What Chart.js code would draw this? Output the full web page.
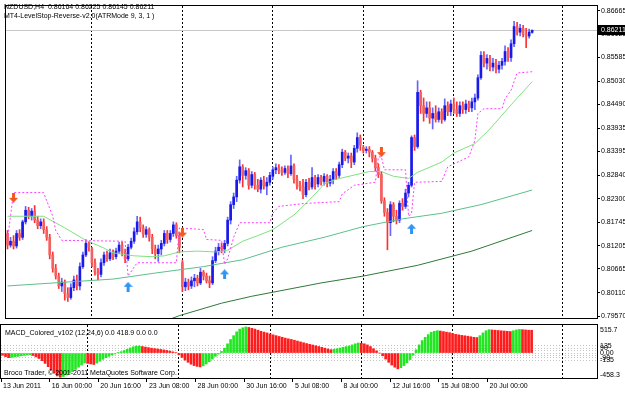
<!DOCTYPE html>
<html>
<head>
<meta charset="utf-8">
<title>NZDUSD,H4</title>
<script src="https://cdn.jsdelivr.net/npm/chart.js@4.4.1/dist/chart.umd.min.js"></script>
<style>
  body        { margin: 0; background: #fff; }
  #wrap       { position: relative; width: 625px; height: 393px; overflow: hidden; }
  canvas      { position: absolute; left: 0; }
  #priceChart { top: 0; }
  #macdChart  { top: 324px; }
</style>
</head>
<body>
<div id="wrap">
  <canvas id="priceChart" width="625" height="324"></canvas>
  <canvas id="macdChart" width="625" height="69"></canvas>
</div>
<script>
// ── Data: time axis ───────────────────────────────────────────
const timeIdx    = [0, 16, 32, 48, 64, 80, 96, 112, 128, 144, 160];
const timeLabels = ['13 Jun 2011', '16 Jun 00:00', '20 Jun 16:00', '23 Jun 08:00', '28 Jun 00:00',
                    '30 Jun 16:00', '5 Jul 08:00', '8 Jul 00:00', '12 Jul 16:00', '15 Jul 08:00', '20 Jul 00:00'];
const weekStarts = [28, 58, 88, 118, 148, 184];
const priceTicks = [0.86665, 0.86125, 0.85585, 0.85030, 0.84490, 0.83935, 0.83395,
                    0.82840, 0.82300, 0.81745, 0.81205, 0.80665, 0.80110, 0.79570];

// ── Data: NZDUSD H4 candles ───────────────────────────────────
const opens = [
  .8149,.8122,.8131,.8120,.8149,.8140,.8176,.8203,.8189,.8201,
  .8180,.8167,.8176,.8158,.8140,.8099,.8068,.8050,.8027,.8036,
  .8009,.8000,.8023,.8041,.8027,.8072,.8099,.8126,.8113,.8081,
  .8059,.8054,.8081,.8099,.8090,.8104,.8095,.8108,.8122,.8104,
  .8090,.8117,.8131,.8153,.8176,.8162,.8147,.8158,.8140,.8113,
  .8102,.8113,.8126,.8149,.8135,.8149,.8169,.8144,.8081,.8025,
  .8036,.8027,.8039,.8045,.8034,.8059,.8050,.8039,.8034,.8086,
  .8108,.8117,.8113,.8126,.8180,.8216,.8234,.8273,.8304,.8284,
  .8295,.8261,.8286,.8261,.8252,.8273,.8259,.8268,.8282,.8297,
  .8302,.8295,.8291,.8300,.8288,.8306,.8275,.8261,.8257,.8239,
  .8268,.8257,.8279,.8264,.8279,.8270,.8282,.8266,.8275,.8293,
  .8284,.8309,.8338,.8324,.8329,.8315,.8347,.8372,.8349,.8342,
  .8345,.8338,.8324,.8302,.8286,.8225,.8198,.8174,.8216,.8189,
  .8180,.8219,.8212,.8243,.8261,.8372,.8351,.8477,.8446,.8428,
  .8441,.8417,.8428,.8414,.8432,.8414,.8446,.8432,.8450,.8437,
  .8428,.8446,.8437,.8450,.8441,.8455,.8464,.8511,.8563,.8545,
  .8556,.8536,.8545,.8531,.8540,.8549,.8572,.8558,.8590,.8630,
  .8617,.8626,.8612,.8608,.86164
];
const highs = [
  .8156,.8140,.8144,.8156,.8158,.8180,.8212,.8210,.8207,.8214,
  .8189,.8183,.8183,.8165,.8147,.8106,.8077,.8057,.8045,.8041,
  .8023,.8032,.8050,.8052,.8081,.8106,.8135,.8131,.8117,.8090,
  .8068,.8090,.8106,.8108,.8113,.8111,.8115,.8129,.8129,.8113,
  .8124,.8138,.8162,.8189,.8187,.8169,.8165,.8162,.8147,.8122,
  .8122,.8133,.8156,.8156,.8156,.8176,.8174,.8151,.8086,.8045,
  .8043,.8048,.8054,.8052,.8068,.8063,.8057,.8050,.8095,.8117,
  .8126,.8126,.8133,.8187,.8223,.8243,.8282,.8320,.8309,.8302,
  .8300,.8293,.8291,.8275,.8279,.8282,.8279,.8291,.8304,.8311,
  .8309,.8304,.8306,.8306,.8331,.8311,.8284,.8270,.8275,.8275,
  .8277,.8302,.8284,.8286,.8284,.8288,.8286,.8284,.8300,.8300,
  .8315,.8345,.8342,.8336,.8336,.8354,.8383,.8378,.8354,.8351,
  .8351,.8342,.8331,.8311,.8293,.8232,.8207,.8223,.8221,.8203,
  .8225,.8230,.8252,.8268,.8376,.8378,.8504,.8482,.8464,.8455,
  .8455,.8441,.8446,.8441,.8439,.8462,.8455,.8459,.8464,.8455,
  .8455,.8455,.8459,.8457,.8464,.8473,.8518,.8572,.8572,.8565,
  .8563,.8556,.8554,.8549,.8556,.8585,.8581,.8599,.8642,.8640,
  .8635,.8633,.8626,.8624,.86225
];
const lows = [
  .8113,.8117,.8113,.8115,.8133,.8135,.8171,.8183,.8180,.8174,
  .8160,.8160,.8149,.8133,.8090,.8059,.8043,.8021,.8014,.7994,
  .7991,.7996,.8016,.8018,.8018,.8068,.8095,.8108,.8072,.8052,
  .8041,.8048,.8075,.8084,.8086,.8088,.8090,.8102,.8097,.8081,
  .8086,.8113,.8126,.8147,.8153,.8140,.8140,.8131,.8102,.8090,
  .8084,.8099,.8120,.8126,.8129,.8142,.8138,.8104,.8014,.8016,
  .8018,.8021,.8025,.8027,.8030,.8041,.8034,.8023,.8030,.8081,
  .8099,.8104,.8104,.8120,.8171,.8207,.8223,.8266,.8257,.8275,
  .8252,.8255,.8252,.8246,.8243,.8252,.8239,.8261,.8275,.8288,
  .8288,.8284,.8286,.8279,.8284,.8266,.8252,.8248,.8230,.8234,
  .8250,.8252,.8252,.8257,.8261,.8261,.8257,.8259,.8264,.8275,
  .8279,.8302,.8318,.8313,.8302,.8309,.8338,.8342,.8336,.8336,
  .8327,.8315,.8293,.8279,.8219,.8189,.8111,.8144,.8176,.8171,
  .8174,.8203,.8207,.8234,.8257,.8342,.8347,.8428,.8410,.8419,
  .8405,.8392,.8408,.8408,.8405,.8410,.8423,.8423,.8428,.8421,
  .8421,.8428,.8428,.8432,.8432,.8437,.8459,.8507,.8536,.8531,
  .8527,.8527,.8522,.8522,.8531,.8540,.8549,.8549,.8583,.8610,
  .8608,.8606,.8581,.8603,.86145
];
const closes = [
  .8122,.8131,.8120,.8149,.8140,.8176,.8203,.8189,.8201,.8180,
  .8167,.8176,.8158,.8140,.8099,.8068,.8050,.8027,.8036,.8009,
  .8000,.8023,.8041,.8027,.8072,.8099,.8126,.8117,.8081,.8059,
  .8054,.8081,.8099,.8090,.8104,.8095,.8108,.8122,.8104,.8090,
  .8117,.8131,.8153,.8176,.8162,.8147,.8158,.8140,.8113,.8102,
  .8113,.8126,.8149,.8135,.8149,.8169,.8144,.8117,.8025,.8036,
  .8027,.8039,.8045,.8034,.8059,.8050,.8039,.8034,.8086,.8108,
  .8117,.8113,.8126,.8180,.8216,.8234,.8273,.8304,.8284,.8295,
  .8261,.8286,.8261,.8252,.8273,.8259,.8268,.8284,.8297,.8302,
  .8295,.8291,.8300,.8288,.8306,.8275,.8261,.8257,.8239,.8268,
  .8257,.8279,.8264,.8279,.8270,.8282,.8266,.8275,.8293,.8284,
  .8309,.8338,.8324,.8329,.8315,.8347,.8372,.8354,.8342,.8345,
  .8338,.8324,.8302,.8286,.8225,.8198,.8174,.8216,.8189,.8180,
  .8219,.8212,.8243,.8261,.8372,.8351,.8477,.8446,.8428,.8441,
  .8417,.8428,.8414,.8432,.8414,.8446,.8432,.8450,.8437,.8428,
  .8446,.8437,.8450,.8441,.8455,.8464,.8511,.8563,.8545,.8556,
  .8536,.8545,.8531,.8540,.8549,.8572,.8558,.8590,.8630,.8617,
  .8626,.8612,.8608,.8617,.86211
];

// ── Data: moving averages (bar index / price) ─────────────────
const fastMaIdx = [0, 12, 19, 26, 32, 35, 42, 48, 52, 57, 63, 69, 73, 78, 83, 88,
                   95, 99, 103, 105, 109, 120, 124, 128, 133, 136, 144, 148, 155, 160, 167, 174];
const fastMaVal = [.8189, .8189, .8162, .8133, .8115, .8104, .8097, .8095, .8097, .8106, .8108, .8106, .8110, .8131, .8144, .8158,
                   .8192, .8219, .8248, .8264, .8275, .8293, .8293, .8282, .8277, .8291, .8315, .8336, .8358, .8392, .8448, .8502];
const midMaIdx  = [0, 35, 49, 65, 78, 91, 105, 118, 131, 144, 157, 174];
const midMaVal  = [.8027, .8043, .8057, .8072, .8088, .8117, .8140, .8165, .8183, .8196, .8216, .8250];
const slowMaIdx = [45, 57, 71, 81, 104, 118, 136, 154, 174];
const slowMaVal = [.7926, .7958, .7987, .8003, .8034, .8050, .8075, .8108, .8156];

// ── Data: LevelStop-Reverse line and signals ──────────────────
const stopIdx = [0, 2, 12, 13, 15, 16, 18, 39, 40, 43, 56, 57, 65, 66, 71, 72, 73, 75, 77, 87, 88, 90,
                 99, 110, 111, 115, 122, 123, 124, 125, 132, 133, 134, 135, 144, 146, 153, 155, 156, 158, 164, 165, 167, 169, 174];
const stopVal = [.8135, .8244, .8244, .8225, .8189, .8156, .8133, .8131, .8050, .8081, .8081, .8162, .8158, .8135, .8133, .8077, .8090, .8140, .8174, .8174, .8196, .8212,
                 .8219, .8223, .8241, .8261, .8268, .8327, .8327, .8297, .8297, .8189, .8196, .8268, .8270, .8304, .8327, .8365, .8428, .8439, .8439, .8462, .8482, .8522, .8525];
const sellIdx = [2, 58, 124];
const sellVal = [.8232, .8151, .8338];
const buyIdx  = [40, 72, 134];
const buyVal  = [.8025, .8054, .8160];

// ── Data: MACD_Colored histogram ──────────────────────────────
const macdHist = [
  -40,-65,-85,-80,-70,-62,-50,-42,-35,-30,
  -45,-70,-100,-140,-190,-250,-310,-370,-420,-445,
  -430,-400,-370,-340,-300,-260,-220,-180,-190,-200,
  -210,-185,-150,-115,-85,-60,-35,-15,5,25,
  45,70,95,115,128,130,120,110,100,90,
  82,75,66,57,48,36,22,8,-30,-80,
  -130,-170,-205,-230,-245,-255,-235,-200,-160,-110,
  -60,-20,30,90,170,250,320,390,440,465,
  480,470,455,440,420,400,385,370,350,335,
  320,305,290,275,262,250,235,220,205,190,
  175,160,148,135,120,105,90,75,62,70,
  80,92,105,118,130,150,170,185,180,170,
  150,120,80,40,0,-50,-110,-170,-220,-260,
  -290,-270,-230,-180,-120,-40,60,150,230,290,
  340,380,400,412,405,395,385,375,360,345,
  335,325,318,310,300,290,285,320,370,410,
  430,425,420,415,410,405,400,395,410,425,
  435,430,425,420,418.9
];
const macdLevels = [135, 90, 45, 0, -45, -90, -135];
const macdTickLabels = [135, 90, 0, -90, -135];
const macdMax = 515.7;
const macdMin = -458.3;

// ── Look ──────────────────────────────────────────────────────
const FONT  = "'Liberation Sans', Arial, sans-serif";
const X_MIN = -0.5;
const X_MAX = 195.5;   // bars + chart shift on the right

Chart.defaults.font.family = FONT;
Chart.defaults.font.size   = 7;
Chart.defaults.color       = '#000';

const makeArrow = (color, up) => {
  const c = document.createElement('canvas');
  c.width = 9; c.height = 10;
  const g = c.getContext('2d');
  g.fillStyle = color;
  g.beginPath();
  if (up) {
    g.moveTo(4.5, 0); g.lineTo(9, 5); g.lineTo(6, 5); g.lineTo(6, 10);
    g.lineTo(3, 10); g.lineTo(3, 5); g.lineTo(0, 5);
  } else {
    g.moveTo(4.5, 10); g.lineTo(9, 5); g.lineTo(6, 5); g.lineTo(6, 0);
    g.lineTo(3, 0); g.lineTo(3, 5); g.lineTo(0, 5);
  }
  g.closePath();
  g.fill();
  return c;
};
const downArrow = makeArrow('#f5561a', false);
const upArrow   = makeArrow('#2f95f5', true);

const pts = (xs, ys) => xs.map((x, i) => ({ x, y: ys[i] }));

const isBull     = closes.map((c, i) => c >= opens[i]);
const bodies     = closes.map((c, i) => ({ x: i, y: [opens[i], c] }));
const wicks      = closes.map((c, i) => ({ x: i, y: [lows[i], highs[i]] }));
const bodyColors = isBull.map(b => b ? '#1a1ae8' : '#f26060');
const wickColors = isBull.map(b => b ? '#6464ff' : '#ff3030');

const macdPts    = macdHist.map((v, i) => ({ x: i, y: v }));
const macdColors = macdHist.map((v, i) => (i > 0 && v > macdHist[i - 1]) ? '#22e622' : '#ff1c1c');

// ── Plugins ───────────────────────────────────────────────────
const frame = {
  id: 'frame',
  afterDraw(chart) {
    const { ctx, chartArea: a } = chart;
    ctx.save();
    ctx.strokeStyle = '#000';
    ctx.lineWidth = 1;
    ctx.strokeRect(a.left - 0.5, a.top - 0.5, a.right - a.left + 1, a.bottom - a.top + 1);
    ctx.restore();
  }
};

const separators = {
  id: 'separators',
  beforeDatasetsDraw(chart) {
    const { ctx, chartArea: a, scales: { x } } = chart;
    ctx.save();
    ctx.strokeStyle = '#000';
    ctx.lineWidth = 1;
    ctx.setLineDash([2, 2]);
    weekStarts.forEach(i => {
      const px = Math.floor(x.getPixelForValue(i)) + 0.5;
      ctx.beginPath();
      ctx.moveTo(px, a.top);
      ctx.lineTo(px, a.bottom);
      ctx.stroke();
    });
    ctx.restore();
  }
};

const bidLine = {
  id: 'bidLine',
  beforeDatasetsDraw(chart) {
    const { ctx, chartArea: a, scales: { y } } = chart;
    const py = Math.round(y.getPixelForValue(closes[closes.length - 1])) + 0.5;
    ctx.save();
    ctx.strokeStyle = '#c8c8c8';
    ctx.lineWidth = 1;
    ctx.beginPath();
    ctx.moveTo(a.left, py);
    ctx.lineTo(a.right, py);
    ctx.stroke();
    ctx.restore();
  },
  afterDraw(chart) {
    const { ctx, chartArea: a, scales: { y } } = chart;
    const last = closes[closes.length - 1];
    const py = Math.round(y.getPixelForValue(last));
    ctx.save();
    ctx.fillStyle = '#000';
    ctx.fillRect(a.right + 1, py - 5, 28, 10);
    ctx.fillStyle = '#fff';
    ctx.font = `7px ${FONT}`;
    ctx.textBaseline = 'middle';
    ctx.fillText(last.toFixed(5), a.right + 4, py);
    ctx.restore();
  }
};

const priceText = {
  id: 'priceText',
  afterDraw(chart) {
    const { ctx } = chart;
    ctx.save();
    ctx.fillStyle = '#000';
    ctx.font = `7px ${FONT}`;
    ctx.textBaseline = 'middle';
    const o = opens[opens.length - 1], h = highs[highs.length - 1];
    const l = lows[lows.length - 1],   c = closes[closes.length - 1];
    ctx.fillText(`NZDUSD,H4  ${o.toFixed(5)} ${h.toFixed(5)} ${l.toFixed(5)} ${c.toFixed(5)}`, 4, 7);
    ctx.fillText('MT4-LevelStop-Reverse-v2.0(ATRMode 9, 3, 1 )', 4, 16);
    ctx.restore();
  }
};

const macdText = {
  id: 'macdText',
  afterDraw(chart) {
    const { ctx, chartArea: a, scales: { y } } = chart;
    ctx.save();
    ctx.fillStyle = '#000';
    ctx.font = `7px ${FONT}`;
    ctx.textBaseline = 'middle';
    ctx.fillText(`MACD_Colored_v102 (12,24,6) 0.0 ${macdHist[macdHist.length - 1].toFixed(1)} 0.0 0.0`, 5, 9.5);
    ctx.fillText('Broco Trader, \u00a9 2001-2011 MetaQuotes Software Corp.', 4, 49);
    // right scale
    const lx = a.right + 3;
    ctx.fillText(macdMax.toFixed(1), lx, a.top + 5);
    ctx.fillText(macdMin.toFixed(1), lx, a.bottom - 3);
    macdTickLabels.forEach(v => ctx.fillText(v === 0 ? '0.00' : String(v), lx, y.getPixelForValue(v)));
    ctx.restore();
  }
};

// ── Price chart ───────────────────────────────────────────────
const lineSet = (label, data, color, extra = {}) => Object.assign({
  type: 'line', label, data, borderColor: color, borderWidth: 1,
  pointRadius: 0, fill: false, tension: 0, order: 1
}, extra);

new Chart(document.getElementById('priceChart'), {
  type: 'bar',
  data: {
    datasets: [
      lineSet('sell', pts(sellIdx, sellVal), 'transparent', { showLine: false, pointStyle: downArrow, pointRadius: 5, order: 0 }),
      lineSet('buy',  pts(buyIdx, buyVal),   'transparent', { showLine: false, pointStyle: upArrow,   pointRadius: 5, order: 0 }),
      lineSet('stop', pts(stopIdx, stopVal), '#ff3cff', { borderDash: [2, 2] }),
      lineSet('ma fast', pts(fastMaIdx, fastMaVal), '#80e080'),
      lineSet('ma mid',  pts(midMaIdx, midMaVal),   '#5cc08a'),
      lineSet('ma slow', pts(slowMaIdx, slowMaVal), '#2e7a36'),
      { label: 'body', data: bodies, backgroundColor: bodyColors, barThickness: 2,
        grouped: false, minBarLength: 1, order: 2 },
      { label: 'wick', data: wicks, backgroundColor: wickColors, barThickness: 1,
        grouped: false, order: 3 }
    ]
  },
  options: {
    responsive: false,
    animation: false,
    events: [],
    layout: { padding: { left: 1, top: 1, right: 0, bottom: 1 } },
    plugins: { legend: { display: false }, tooltip: { enabled: false } },
    scales: {
      x: {
        type: 'linear', min: X_MIN, max: X_MAX, offset: false, display: false,
        grid: { offset: false }
      },
      y: {
        position: 'right', min: 0.79525, max: 0.86778, beginAtZero: false,
        afterFit: s => { s.width = 28; },
        afterBuildTicks: s => { s.ticks = priceTicks.map(v => ({ value: v })); },
        ticks: { autoSkip: false, padding: 1, color: '#000', callback: v => v.toFixed(5) },
        grid:  { drawOnChartArea: false, tickLength: 3, color: '#000' },
        border: { display: false }
      }
    }
  },
  plugins: [separators, bidLine, frame, priceText]
});

// ── MACD chart ────────────────────────────────────────────────
new Chart(document.getElementById('macdChart'), {
  type: 'bar',
  data: {
    datasets: [{ label: 'MACD', data: macdPts, backgroundColor: macdColors, barThickness: 2, grouped: false }]
  },
  options: {
    responsive: false,
    animation: false,
    events: [],
    layout: { padding: { left: 1, top: 1, right: 0, bottom: 0 } },
    plugins: { legend: { display: false }, tooltip: { enabled: false } },
    scales: {
      x: {
        type: 'linear', min: X_MIN, max: X_MAX, offset: false,
        afterFit: s => { s.height = 15; },
        afterBuildTicks: s => { s.ticks = timeIdx.map(v => ({ value: v - 0.5 })); },
        ticks: { autoSkip: false, maxRotation: 0, align: 'start', padding: 0, labelOffset: 2,
                 color: '#000', callback: (v, i) => timeLabels[i] },
        grid:  { drawOnChartArea: false, offset: false, tickLength: 4, color: '#000' },
        border: { display: false }
      },
      y: {
        position: 'right', min: macdMin, max: macdMax, beginAtZero: false,
        afterFit: s => { s.width = 28; },
        afterBuildTicks: s => { s.ticks = macdLevels.map(v => ({ value: v })); },
        ticks: { display: false },
        grid:  { color: '#c4c4c4', drawTicks: false },
        border: { display: false, dash: [1, 2] }
      }
    }
  },
  plugins: [separators, frame, macdText]
});
</script>
</body>
</html>
